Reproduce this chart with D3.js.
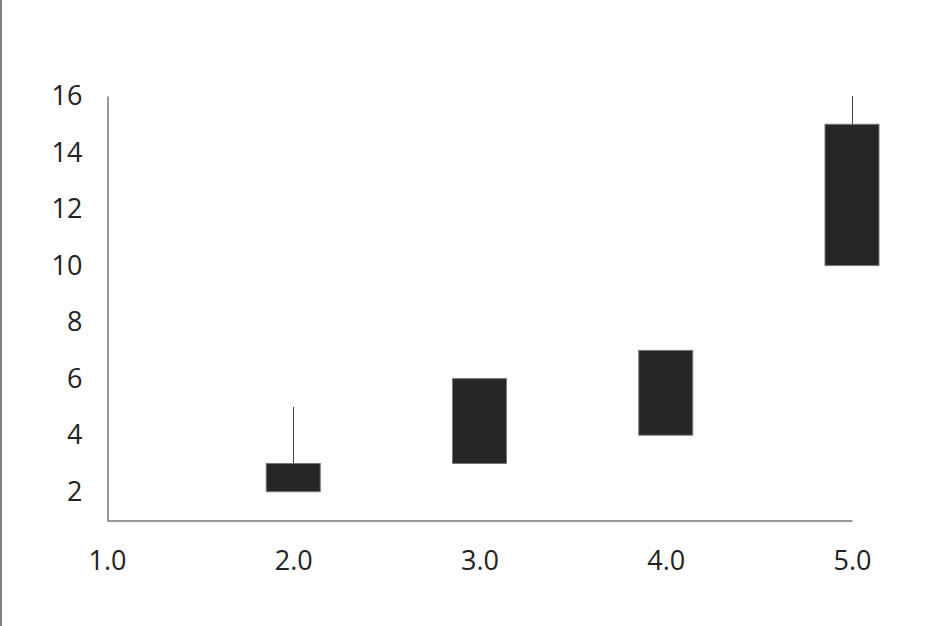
<!DOCTYPE html>
<html>
<head>
<meta charset="utf-8">
<script src="https://cdn.jsdelivr.net/npm/d3@7"></script>
<style>
  html, body { margin: 0; padding: 0; background: #fff; }
</style>
</head>
<body>
<svg width="947" height="626"></svg>
<script>
// x positions and the low/high, open/close of each candle
var xs = [2, 3, 4, 5];
var boxLow = [2, 3, 4, 10];
var boxHigh = [3, 6, 7, 15];
var wickLow = [2, 3, 4, 10];
var wickHigh = [5, 6, 7, 16];
var xTicks = [1, 2, 3, 4, 5];
var yTicks = [2, 4, 6, 8, 10, 12, 14, 16];

var font = "'Open Sans', 'DejaVu Sans', sans-serif";
var svg = d3.select("svg");

// grey border on the left edge
svg.append("rect")
    .attr("x", 0).attr("y", 0)
    .attr("width", 2).attr("height", 626)
    .attr("fill", "#808080");

var x = d3.scaleLinear().domain([1, 5]).range([107, 852]);
var y = d3.scaleLinear().domain([1, 16]).range([520, 96]);
var boxW = 54;

var data = xs.map(function (d, i) {
    return { x: d, lo: boxLow[i], hi: boxHigh[i], wlo: wickLow[i], whi: wickHigh[i] };
});

// wicks
svg.append("g").selectAll("line")
    .data(data.filter(function (d) { return d.whi > d.hi || d.wlo < d.lo; }))
    .enter().append("line")
    .attr("x1", function (d) { return Math.round(x(d.x)) + 0.5; })
    .attr("x2", function (d) { return Math.round(x(d.x)) + 0.5; })
    .attr("y1", function (d) { return y(d.whi); })
    .attr("y2", function (d) { return y(d.wlo); })
    .attr("stroke", "#444")
    .attr("stroke-width", 1);

// boxes
svg.append("g").selectAll("rect")
    .data(data)
    .enter().append("rect")
    .attr("x", function (d) { return x(d.x) - boxW / 2; })
    .attr("y", function (d) { return y(d.hi); })
    .attr("width", boxW)
    .attr("height", function (d) { return y(d.lo) - y(d.hi); })
    .attr("fill", "#262626")
    .attr("stroke", "#777")
    .attr("stroke-width", 1);

// axes
var xAxis = d3.axisBottom(x).tickValues(xTicks).tickSize(0).tickPadding(30)
    .tickFormat(d3.format(".1f"));
var yAxis = d3.axisLeft(y).tickValues(yTicks).tickSize(0).tickPadding(25)
    .tickFormat(d3.format("d"));

var gx = svg.append("g").attr("transform", "translate(0,520.5)").call(xAxis);
var gy = svg.append("g").attr("transform", "translate(107.5,0)").call(yAxis);

[gx, gy].forEach(function (g) {
    g.attr("font-family", font).attr("font-size", 27);
    g.select(".domain").attr("stroke", "#333").attr("stroke-width", 1);
    g.selectAll("text").attr("fill", "#222");
});
</script>
</body>
</html>
